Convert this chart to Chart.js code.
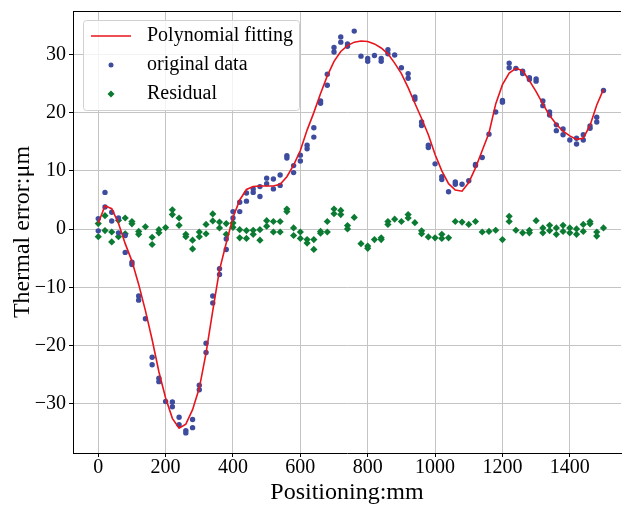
<!DOCTYPE html>
<html>
<head>
<meta charset="utf-8">
<script src="https://cdn.jsdelivr.net/npm/chart.js@4.4.1/dist/chart.umd.min.js"></script>
<style>
    html, body { margin: 0; padding: 0; background: #fff; }
    #wrap { width: 625px; height: 507px; }
</style>
</head>
<body>
<div id="wrap"><canvas id="thermalChart"></canvas></div>
<script>
// positions along the axis (mm)
const positions = [0, 20, 40, 60, 80, 100, 120, 140, 160, 180, 200, 220, 240, 260, 280, 300, 320, 340, 360, 380,
    400, 420, 440, 460, 480, 500, 520, 540, 560, 580, 600, 620, 640, 660, 680, 700, 720, 740, 760, 780,
    800, 820, 840, 860, 880, 900, 920, 940, 960, 980, 1000, 1020, 1040, 1060, 1080, 1100, 1120, 1140, 1160, 1180,
    1200, 1220, 1240, 1260, 1280, 1300, 1320, 1340, 1360, 1380, 1400, 1420, 1440, 1460, 1480, 1500];

// polynomial fit
const fitCurve = [1.0, 4.0, 3.5, 1.0, -2.5, -5.5, -9.5, -14.0, -19.0, -24.5, -29.0, -32.5, -34.2, -33.5, -31.0, -27.3, -21.3, -14.0, -7.0, -2.4,
    2.0, 5.0, 6.8, 7.3, 7.4, 7.4, 7.4, 7.7, 9.0, 11.0, 13.5, 17.0, 20.0, 23.3, 26.3, 28.8, 30.5, 31.5, 32.1, 32.3,
    32.2, 31.8, 31.1, 30.1, 28.5, 26.7, 24.3, 21.6, 19.0, 16.2, 12.8, 10.0, 7.8, 6.7, 6.5, 8.0, 10.5, 13.5, 16.5, 21.5,
    24.8, 26.8, 27.6, 27.2, 25.5, 23.6, 21.5, 19.5, 18.0, 16.8, 16.0, 15.4, 15.6, 17.8, 21.3, 24.0];

// measured points, two runs (null where only one dot is visible)
const originalRun1 = [1.8, 6.3, 2.9, 1.9, -1.1, -5.7, -11.5, -15.4, -22.0, -25.6, -29.6, -29.7, -32.3, -34.6, -32.7, -26.8, -19.6, -11.5, -6.8, -1.7,
    3.0, 4.6, 6.2, 6.9, 7.3, 8.75, 8.6, 9.3, 12.6, 10.9, 12.7, 14.4, 17.4, 22.0, 26.6, 31.2, 33.0, 31.8, 34.0, 29.7,
    29.3, 29.8, 29.3, 30.8, 29.9, 27.7, 26.7, 22.7, 18.4, 14.4, 11.2, 9.0, 6.4, 8.1, 7.7, 8.3, 11.1, 12.3, 16.3, 20.1,
    22.1, 28.5, 27.6, 27.1, 26.0, 25.8, 22.0, 20.1, 17.9, 17.2, 15.3, 15.6, 16.2, 17.7, 19.2, 23.8];
const originalRun2 = [-0.3, 3.8, 1.4, -0.65, -4.0, -6.1, -12.2, null, -23.3, -26.2, null, -30.5, -33.6, -35.0, -34.1, -27.6, -21.2, -12.7, -7.8, -3.5,
    1.9, 3.0, 4.8, 6.3, 5.6, 7.8, 6.9, 7.5, 12.2, 9.7, 11.7, 13.8, 15.8, 21.6, 24.7, 30.4, 32.1, 31.4, null, null,
    28.8, null, 28.8, 30.1, null, null, 25.9, 22.3, 17.8, 14.0, null, 8.5, null, 7.7, null, null, 10.9, null, null, null,
    21.8, 27.7, null, 26.7, 25.7, 25.4, 21.2, 19.6, 16.9, 16.2, null, 14.6, 15.3, 17.3, 18.4, null];

// residuals, two runs
const residualRun1 = [0.94, 2.3, -0.5, 1.5, 1.9, 1.3, -0.4, 0.4, -1.4, -0.1, 0.26, 3.3, 1.9, -0.9, -1.9, -0.5, 0.8, 2.6, 1.2, 0.94,
    1.06, -0.1, -0.26, -0.2, -0.1, 1.45, 1.3, 1.3, 3.45, 0.2, -0.5, -1.8, -1.8, -0.4, 1.3, 3.45, 3.2, 0.6, 2.0, -2.5,
    -2.9, -1.8, -1.5, 1.3, 1.7, 1.3, 2.5, 1.1, -0.3, -1.35, -1.5, -0.9, -1.5, 1.3, 1.2, 0.8, 1.3, -0.5, -0.4, -0.2,
    -1.8, 2.2, -0.2, -0.65, -0.2, 1.45, 0.2, 0.65, 0.2, 0.65, 0.2, 0.03, 0.8, 1.3, -0.5, 0.2];
const residualRun2 = [-1.3, -0.26, -2.2, -1.3, -0.8, 0.9, -0.9, null, -2.65, -0.65, null, 2.5, 0.65, -1.3, -3.4, -1.3, -0.8, 1.4, 0.2, -0.9,
    0.3, -1.5, -1.6, -0.9, -1.9, 0.5, -0.5, -0.5, 3.0, -1.1, -1.6, -2.4, -3.5, -0.7, -0.5, 2.65, 2.5, 0.03, null, null,
    -3.3, null, -1.8, 0.8, null, null, 1.9, null, -0.8, null, null, -1.6, null, null, null, null, null, null, null, null,
    null, 1.3, null, null, -0.65, null, -0.65, -0.26, -0.9, -0.4, -0.65, -0.9, -0.4, 0.9, -1.2, null];

const xTickValues = [0, 200, 400, 600, 800, 1000, 1200, 1400];
const yTickValues = [-30, -20, -10, 0, 10, 20, 30];

function toPoints(values) {
    const pts = [];
    values.forEach((v, i) => {
        if (v !== null) pts.push({ x: positions[i], y: v });
    });
    return pts;
}

const serif = 'Liberation Serif, Times New Roman, serif';

// matplotlib style legend box in the upper left
const innerLegend = {
    id: 'innerLegend',
    afterDraw(chart) {
        const ctx = chart.ctx;
        const area = chart.chartArea;
        const x = area.left + 10, y = area.top + 9, w = 216, h = 90;
        ctx.save();
        ctx.fillStyle = 'rgba(255,255,255,0.8)';
        ctx.strokeStyle = '#d0d0d0';
        ctx.lineWidth = 1;
        ctx.beginPath();
        ctx.roundRect(x + 0.5, y + 0.5, w, h, 3);
        ctx.fill();
        ctx.stroke();

        ctx.font = '20px ' + serif;
        ctx.textBaseline = 'middle';
        ctx.fillStyle = '#000';
        chart.data.datasets.forEach((ds, i) => {
            const rowY = y + 16 + i * 29;
            const hx = x + 28;
            if (ds.type === 'line') {
                ctx.strokeStyle = ds.borderColor;
                ctx.lineWidth = 1.5;
                ctx.beginPath();
                ctx.moveTo(x + 8, rowY);
                ctx.lineTo(x + 48, rowY);
                ctx.stroke();
            } else if (ds.pointStyle === 'rectRot') {
                ctx.fillStyle = ds.backgroundColor;
                ctx.beginPath();
                ctx.moveTo(hx, rowY - 3.5);
                ctx.lineTo(hx + 3.5, rowY);
                ctx.lineTo(hx, rowY + 3.5);
                ctx.lineTo(hx - 3.5, rowY);
                ctx.closePath();
                ctx.fill();
            } else {
                ctx.fillStyle = ds.backgroundColor;
                ctx.beginPath();
                ctx.arc(hx, rowY, 2.5, 0, Math.PI * 2);
                ctx.fill();
            }
            ctx.fillStyle = '#000';
            ctx.fillText(ds.label, x + 64, rowY);
        });
        ctx.restore();
    }
};

// top spine
const topSpine = {
    id: 'topSpine',
    afterDatasetsDraw(chart) {
        const { ctx, chartArea } = chart;
        ctx.save();
        ctx.strokeStyle = '#000';
        ctx.lineWidth = 1;
        ctx.beginPath();
        ctx.moveTo(chartArea.left, chartArea.top + 0.5);
        ctx.lineTo(chartArea.right, chartArea.top + 0.5);
        ctx.stroke();
        ctx.restore();
    }
};

const ctx = document.getElementById('thermalChart').getContext('2d');
new Chart(ctx, {
    type: 'scatter',
    data: {
        datasets: [
            {
                type: 'line',
                label: 'Polynomial fitting',
                data: positions.map((p, i) => ({ x: p, y: fitCurve[i] })),
                borderColor: '#e8141c',
                borderWidth: 1.6,
                pointRadius: 0,
                tension: 0,
                fill: false,
                order: 0
            },
            {
                label: 'original data',
                data: toPoints(originalRun1).concat(toPoints(originalRun2)),
                backgroundColor: '#3d4c9e',
                borderWidth: 0,
                pointRadius: 2.7,
                pointStyle: 'circle',
                order: 1
            },
            {
                label: 'Residual',
                data: toPoints(residualRun1).concat(toPoints(residualRun2)),
                backgroundColor: '#0b7a32',
                borderWidth: 0,
                pointRadius: 3.6,
                pointStyle: 'rectRot',
                order: 2
            }
        ]
    },
    options: {
        responsive: true,
        maintainAspectRatio: false,
        animation: false,
        layout: { padding: { top: 11, right: 0, left: 0, bottom: 0 } },
        plugins: {
            legend: { display: false },
            tooltip: { enabled: false }
        },
        scales: {
            x: {
                type: 'linear',
                min: -75,
                max: 1552,
                afterBuildTicks: scale => { scale.ticks = xTickValues.map(v => ({ value: v })); },
                afterFit: scale => { scale.height = 54; scale.paddingLeft = 0; scale.paddingRight = 0; },
                grid: { color: '#c4c4c4', lineWidth: 1, tickColor: '#000', tickLength: 4 },
                border: { color: '#000', width: 1 },
                ticks: {
                    color: '#000',
                    font: { family: serif, size: 20 },
                    padding: -1,
                    maxRotation: 0,
                    callback: v => String(v)
                },
                title: {
                    display: true,
                    text: 'Positioning:mm',
                    color: '#000',
                    font: { family: serif, size: 24 },
                    padding: { top: 0, bottom: 0 }
                }
            },
            y: {
                type: 'linear',
                min: -38.45,
                max: 37.45,
                afterBuildTicks: scale => { scale.ticks = yTickValues.map(v => ({ value: v })); },
                afterFit: scale => { scale.width = 73; scale.paddingTop = 0; scale.paddingBottom = 0; },
                grid: { color: '#c4c4c4', lineWidth: 1, tickColor: '#000', tickLength: 4 },
                border: { color: '#000', width: 1 },
                ticks: {
                    color: '#000',
                    font: { family: serif, size: 20 },
                    padding: 3,
                    callback: v => (v < 0 ? '\u2212' + Math.abs(v) : String(v))
                },
                title: {
                    display: true,
                    text: 'Thermal error:μm',
                    color: '#000',
                    font: { family: serif, size: 24 },
                    padding: { top: 8, bottom: 0 }
                }
            }
        }
    },
    plugins: [innerLegend, topSpine]
});
</script>
</body>
</html>
